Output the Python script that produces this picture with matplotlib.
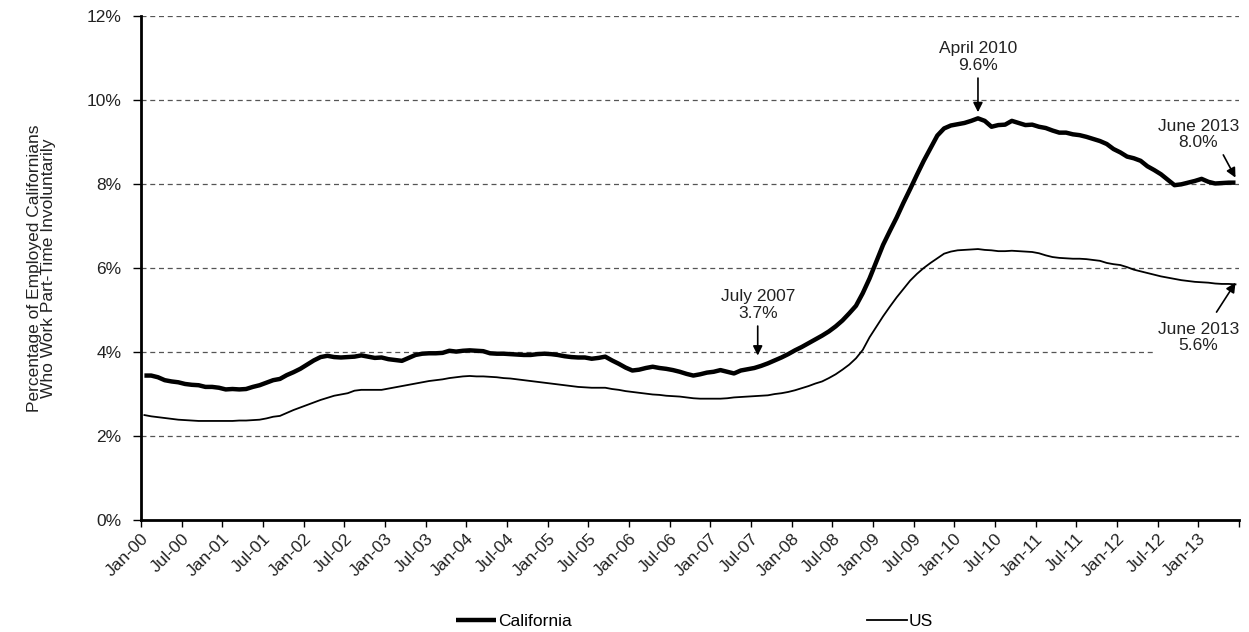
import matplotlib
matplotlib.use("Agg")
import matplotlib.pyplot as plt
from matplotlib.ticker import FuncFormatter

# monthly values, Jan-00 .. Jun-13 (percent)
california = [
    3.44, 3.44, 3.40, 3.33, 3.30, 3.28, 3.24, 3.22, 3.21, 3.17, 3.17, 3.15,
    3.11, 3.12, 3.11, 3.12, 3.17, 3.21, 3.27, 3.33, 3.36, 3.45, 3.52, 3.60,
    3.70, 3.80, 3.88, 3.91, 3.88, 3.87, 3.88, 3.89, 3.92, 3.89, 3.86, 3.87,
    3.83, 3.81, 3.79, 3.86, 3.93, 3.96, 3.97, 3.97, 3.98, 4.03, 4.01, 4.03,
    4.04, 4.03, 4.02, 3.97, 3.96, 3.96, 3.95, 3.94, 3.93, 3.93, 3.95, 3.96,
    3.95, 3.93, 3.90, 3.88, 3.87, 3.87, 3.84, 3.86, 3.89, 3.80, 3.72, 3.63,
    3.56, 3.58, 3.62, 3.65, 3.62, 3.60, 3.57, 3.53, 3.48, 3.44, 3.47, 3.51,
    3.53, 3.57, 3.53, 3.49, 3.56, 3.59, 3.62, 3.67, 3.73, 3.80, 3.87, 3.95,
    4.04, 4.12, 4.21, 4.30, 4.39, 4.49, 4.61, 4.75, 4.92, 5.10, 5.40, 5.75,
    6.15, 6.55, 6.88, 7.20, 7.55, 7.88, 8.22, 8.55, 8.85, 9.15, 9.32, 9.39,
    9.42, 9.45, 9.50, 9.56, 9.50, 9.36, 9.40, 9.41, 9.50, 9.45, 9.40, 9.41,
    9.36, 9.33, 9.27, 9.22, 9.22, 9.18, 9.16, 9.12, 9.07, 9.02, 8.95, 8.83,
    8.75, 8.65, 8.61, 8.55, 8.42, 8.33, 8.23, 8.10, 7.97, 7.99, 8.03, 8.07,
    8.12, 8.05, 8.01, 8.02, 8.03, 8.03,
]
us = [
    2.50, 2.47, 2.45, 2.43, 2.41, 2.39, 2.38, 2.37, 2.36, 2.36, 2.36, 2.36,
    2.36, 2.36, 2.37, 2.37, 2.38, 2.39, 2.42, 2.46, 2.48, 2.55, 2.62, 2.68,
    2.74, 2.80, 2.86, 2.91, 2.96, 2.99, 3.02, 3.08, 3.10, 3.10, 3.10, 3.10,
    3.13, 3.16, 3.19, 3.22, 3.25, 3.28, 3.31, 3.33, 3.35, 3.38, 3.40, 3.42,
    3.43, 3.42, 3.42, 3.41, 3.40, 3.38, 3.37, 3.35, 3.33, 3.31, 3.29, 3.27,
    3.25, 3.23, 3.21, 3.19, 3.17, 3.16, 3.15, 3.15, 3.15, 3.12, 3.10, 3.07,
    3.05, 3.03, 3.01, 2.99, 2.98, 2.96, 2.95, 2.94, 2.92, 2.90, 2.89, 2.89,
    2.89, 2.89, 2.90, 2.92, 2.93, 2.94, 2.95, 2.96, 2.97, 3.00, 3.02, 3.05,
    3.09, 3.14, 3.19, 3.25, 3.30, 3.38, 3.47, 3.58, 3.70, 3.85, 4.05, 4.35,
    4.60, 4.85, 5.08, 5.30, 5.50, 5.70, 5.86, 6.00, 6.12, 6.23, 6.34, 6.39,
    6.42, 6.43, 6.44, 6.45, 6.43, 6.42, 6.40, 6.40, 6.41, 6.40, 6.39, 6.38,
    6.35, 6.30, 6.26, 6.24, 6.23, 6.22, 6.22, 6.21, 6.19, 6.17, 6.12, 6.09,
    6.07, 6.02, 5.96, 5.92, 5.88, 5.84, 5.80, 5.77, 5.74, 5.71, 5.69, 5.67,
    5.66, 5.65, 5.63, 5.62, 5.62, 5.61,
]
years = [f"{y:02d}" for y in range(0, 14)]
tick_labels = []
for y in years:
    tick_labels += [f"Jan-{y}", f"Jul-{y}"]
tick_labels = tick_labels[:27]  # Jan-00 .. Jan-13

months = list(range(len(california)))
last = months[-1]

plt.rcParams["font.family"] = ["Liberation Sans", "DejaVu Sans"]
txt = "#222222"

fig = plt.figure(figsize=(12.49, 6.32), dpi=100)
ax = fig.add_axes([0.1129, 0.177, 0.879, 0.798])

for yv in range(2, 13, 2):
    ax.axhline(yv, color="#555555", lw=0.9, ls=(0, (4, 3)), zorder=1)

ax.plot(months, california, color="black", lw=3.2, zorder=3, label="California",
        solid_joinstyle="round", solid_capstyle="butt")
ax.plot(months, us, color="black", lw=1.3, zorder=3, label="US")

# category axis: ticks sit between months
ax.set_xlim(-0.5, last + 0.5)
ax.set_ylim(0, 12)
ax.set_yticks(range(0, 13, 2))
ax.yaxis.set_major_formatter(FuncFormatter(lambda v, p: f"{v:.0f}%"))
ticks = [-0.5 + 6 * k for k in range(28)]
ax.set_xticks(ticks)
ax.set_xticklabels(tick_labels + [""], rotation=45, ha="right", rotation_mode="anchor",
                   fontsize=12.5)
ax.tick_params(axis="y", labelsize=12.5, length=6, width=1, direction="out", pad=8,
               labelcolor=txt)
ax.tick_params(axis="x", length=5, width=1, direction="out", pad=3,
               labelcolor=txt)

for s in ["top", "right"]:
    ax.spines[s].set_visible(False)
ax.spines["left"].set_linewidth(2)
ax.spines["bottom"].set_linewidth(2)

ax.set_ylabel("Percentage of Employed Californians\nWho Work Part-Time Involuntarily",
              fontsize=12.5, color=txt, linespacing=0.95)
ax.yaxis.set_label_coords(-0.077, 0.5)

ann = dict(fontsize=12.5, ha="center", va="bottom", color=txt, linespacing=1.1)
arrow = dict(arrowstyle="-|>", color="black", lw=1.2, mutation_scale=14)
ax.annotate("April 2010\n9.6%", xy=(123, california[123] + 0.08), xytext=(123, 10.65),
            arrowprops=arrow, **ann)
ax.annotate("July 2007\n3.7%", xy=(90.5, 3.85), xytext=(90.5, 4.75),
            arrowprops=arrow, **ann)

# June 2013 labels at the right edge
ax.text(last + 0.5, 8.8, "June 2013\n8.0%", ha="right", va="bottom",
        multialignment="center", fontsize=12.5, color=txt, linespacing=1.1, zorder=4)
ax.annotate("", xy=(last, california[-1] + 0.12), xytext=(159.2, 8.69),
            arrowprops=dict(arrowstyle="-|>", color="black", lw=1.2, mutation_scale=14,
                            shrinkA=0, shrinkB=0))
ax.text(last + 0.5, 4.72, "June 2013\n5.6%", ha="right", va="top",
        multialignment="center", fontsize=12.5, color=txt, linespacing=1.1, zorder=4,
        bbox=dict(boxstyle="square,pad=0.25", fc="white", ec="none"))
ax.annotate("", xy=(last, us[-1] + 0.04), xytext=(158.2, 4.95),
            arrowprops=dict(arrowstyle="-|>", color="black", lw=1.2, mutation_scale=14,
                            shrinkA=0, shrinkB=0))

fig.legend(loc="center", bbox_to_anchor=(0.556, 0.017), ncol=2, frameon=False,
           handlelength=2.3, handletextpad=0.1, columnspacing=17,
           prop={"size": 12.5})

fig.savefig("out.png", dpi=100)
